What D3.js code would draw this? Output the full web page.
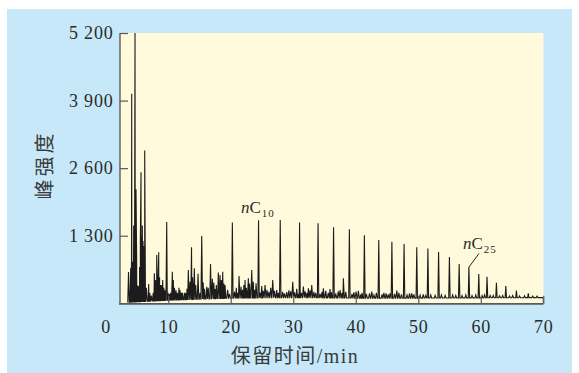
<!DOCTYPE html>
<html>
<head>
<meta charset="utf-8">
<script src="https://cdn.jsdelivr.net/npm/d3@7"></script>
<style>
  html, body { margin: 0; padding: 0; background: #fff; }
  svg { display: block; }
  text { fill: #2b2b2b; }
</style>
</head>
<body>
<div id="chart"></div>
<script>
// Chromatogram data: [retention time (min), peak height]
const alkanePeaks = [
  [20.26, 1552], [24.45, 1600], [27.92, 1604], [31.01, 1552], [33.97, 1541],
  [36.45, 1464], [38.98, 1425], [41.38, 1310], [43.68, 1219], [45.78, 1184],
  [47.73, 1142], [49.76, 1079], [51.54, 1052], [53.25, 988], [54.98, 892],
  [56.54, 757], [58.10, 705], [59.68, 564], [61.00, 512], [62.50, 397],
  [64.00, 333], [65.70, 243], [67.60, 193]
]

// Early eluting compounds (the crowded part on the left)
const earlyPeaks = [
  [3.65, 600], [4.00, 686], [4.16, 4030], [4.30, 800], [4.48, 1495], [4.69, 5200],
  [4.85, 2196], [4.95, 900], [5.12, 340], [5.28, 330], [5.42, 700], [5.54, 1220],
  [5.65, 2523], [5.80, 1300], [5.86, 1495], [5.97, 1200], [6.12, 1100], [6.24, 2940],
  [6.50, 300], [6.88, 372], [7.04, 200], [7.30, 150], [7.60, 200], [7.78, 578],
  [8.00, 450], [8.16, 930], [8.26, 487], [8.48, 982], [8.62, 500], [8.74, 352],
  [8.90, 350], [9.12, 449], [9.30, 300], [9.50, 250], [9.76, 1566], [9.97, 200],
  [10.20, 180], [10.40, 200], [10.66, 609], [10.82, 450], [11.00, 300], [11.25, 250],
  [11.46, 200], [11.73, 300], [11.90, 250], [12.10, 200], [12.30, 200], [12.64, 200],
  [12.85, 200], [13.00, 280], [13.22, 641], [13.49, 416], [13.73, 1080], [13.90, 500],
  [14.18, 674], [14.40, 350], [14.77, 570], [15.09, 200], [15.36, 1296], [15.60, 400],
  [15.80, 280], [16.16, 320], [16.40, 300], [16.77, 757], [17.06, 470], [17.30, 400],
  [17.49, 275], [17.70, 350], [18.02, 590], [18.29, 545], [18.50, 450], [18.72, 609],
  [18.90, 380], [19.09, 352]
]

// Small peaks riding on the baseline between the n-alkanes
const minorPeaks = [
  [19.5, 260], [19.8, 180], [20.6, 220], [20.9, 300], [21.1, 200], [21.33, 526],
  [21.65, 320], [21.9, 260], [22.1, 350], [22.29, 449], [22.5, 300], [22.82, 481],
  [23.0, 380], [23.36, 641], [23.62, 416], [23.8, 260], [24.05, 385], [24.7, 200],
  [24.96, 333], [25.2, 240], [25.49, 352], [25.8, 260], [26.1, 220], [26.4, 300],
  [26.72, 449], [27.0, 240], [27.36, 256], [27.6, 200], [28.3, 220], [28.6, 190],
  [28.96, 218], [29.3, 250], [29.6, 230], [29.92, 416], [30.2, 210], [30.56, 280],
  [30.8, 180], [31.3, 200], [31.62, 320], [31.9, 230], [32.2, 200], [32.42, 290],
  [32.7, 250], [32.96, 352], [33.3, 220], [33.6, 200], [34.3, 180], [34.6, 220],
  [34.82, 290], [35.2, 240], [35.6, 200], [35.89, 275], [36.1, 210], [36.8, 190],
  [37.2, 230], [37.49, 256], [37.8, 200], [38.02, 481], [38.4, 220], [39.4, 180],
  [39.7, 210], [40.05, 224], [40.42, 240], [40.8, 170], [41.0, 200], [41.7, 180],
  [42.2, 190], [42.56, 224], [42.9, 160], [43.3, 200], [44.2, 170], [44.5, 200],
  [44.85, 190], [45.2, 170], [45.5, 190], [46.2, 180], [46.56, 243], [46.9, 200],
  [47.3, 170], [48.2, 160], [48.6, 190], [48.96, 190], [49.3, 170], [50.3, 160],
  [50.8, 170], [51.2, 150], [52.0, 160], [52.7, 150], [53.7, 160], [54.3, 150],
  [55.5, 160], [56.0, 150], [57.0, 150], [57.6, 160], [58.6, 150], [59.2, 160],
  [60.2, 150], [60.6, 160], [61.5, 150], [62.0, 150], [63.0, 145], [63.5, 150],
  [64.6, 140], [65.1, 150], [66.2, 140], [67.0, 145], [68.3, 140], [69.0, 140]
]

// Baseline drift: [time, level]
const baselineLevels = [[3.5, 20], [10, 60], [20, 100], [30, 110], [40, 100], [50, 100], [60, 105], [70, 110]]

const xTicks = [0, 10, 20, 30, 40, 50, 60, 70]
const yTicks = [1300, 2600, 3900, 5200]
const peakLabels = [
  { text: 'C', sub: '10', t: 24.45 },
  { text: 'C', sub: '25', t: 58.10 }
]

const width = 579
const height = 373

const svg = d3.select('#chart')
  .append('svg')
  .attr('width', width)
  .attr('height', height)

// Panel background
svg.append('rect')
  .attr('x', 7).attr('y', 9)
  .attr('width', 565).attr('height', 364)
  .attr('fill', '#c6e8f8')

/**
 * Scales.
 */
const x = d3.scaleLinear().domain([0, 70]).range([105.7, 543.3])
const y = d3.scaleLinear().domain([0, 5200]).range([303.3, 33])
const plotLeft = 120
const plotRight = 543.5

svg.append('rect')
  .attr('x', plotLeft).attr('y', y(5200))
  .attr('width', plotRight - plotLeft).attr('height', y(0) - y(5200))
  .attr('fill', '#fffadb')

svg.append('defs').append('clipPath').attr('id', 'plot-clip')
  .append('rect')
  .attr('x', plotLeft).attr('y', y(5200) - 0.5)
  .attr('width', plotRight - plotLeft).attr('height', y(0) - y(5200) + 0.5)

// Baseline level as a function of time
const base = d3.scaleLinear()
  .domain(baselineLevels.map(d => d[0]))
  .range(baselineLevels.map(d => d[1]))
  .clamp(true)

// Each peak becomes a narrow spike on the baseline
const points = []
const addPeaks = (list, w) => list.forEach(([t, h]) => {
  points.push([t - w, base(t - w)], [t, h], [t + w, base(t + w)])
})
addPeaks(alkanePeaks, 0.11)
addPeaks(earlyPeaks, 0.12)
addPeaks(minorPeaks, 0.14)
points.sort((a, b) => a[0] - b[0])
points.unshift([3.5, base(3.5)])
points.push([70, base(70)], [70, 0])

const line = d3.line()
  .x(d => x(d[0]))
  .y(d => y(d[1]))

svg.append('path')
  .datum(points)
  .attr('clip-path', 'url(#plot-clip)')
  .attr('d', line)
  .attr('fill', 'none')
  .attr('stroke', '#1c1c1c')
  .attr('stroke-width', 1.1)
  .attr('stroke-linejoin', 'miter')

/**
 * Axes (ticks point inward).
 */
const axisColor = '#5a5a5a'
const yAxis = svg.append('g')
  .attr('transform', `translate(${plotLeft},0)`)
  .call(d3.axisRight(y).tickValues(yTicks).tickSize(8).tickFormat(''))
yAxis.select('.domain').remove()
yAxis.selectAll('line').attr('stroke', axisColor).attr('stroke-width', 1.2)

const xAxis = svg.append('g')
  .attr('transform', `translate(0,${y(0) + 0.5})`)
  .call(d3.axisTop(x).tickValues(xTicks.filter(d => x(d) > plotLeft)).tickSize(8).tickFormat(''))
xAxis.select('.domain').remove()
xAxis.selectAll('line').attr('stroke', axisColor).attr('stroke-width', 1.2)

svg.append('line')
  .attr('x1', plotLeft).attr('x2', plotLeft)
  .attr('y1', y(5200)).attr('y2', y(0) + 1.5)
  .attr('stroke', axisColor).attr('stroke-width', 1.4)
svg.append('line')
  .attr('x1', plotLeft - 0.7).attr('x2', plotRight)
  .attr('y1', y(0) + 0.6).attr('y2', y(0) + 0.6)
  .attr('stroke', axisColor).attr('stroke-width', 1.8)

// Tick labels
const fmt = d => d3.format(',')(d).replace(',', ' ')
svg.append('g').selectAll('text')
  .data(yTicks)
  .join('text')
  .attr('x', 113.5)
  .attr('y', d => y(d))
  .attr('dy', '0.34em')
  .attr('text-anchor', 'end')
  .attr('font-family', '"Liberation Serif", "Times New Roman", serif')
  .attr('font-size', 18)
  .attr('letter-spacing', 0.8)
  .text(fmt)

svg.append('g').selectAll('text')
  .data(xTicks)
  .join('text')
  .attr('x', d => x(d) + 0.5)
  .attr('y', 333)
  .attr('text-anchor', 'middle')
  .attr('font-family', '"Liberation Serif", "Times New Roman", serif')
  .attr('font-size', 18)
  .attr('letter-spacing', 0.8)
  .text(d => d)

// Axis titles
svg.append('text')
  .attr('transform', `translate(52,165) rotate(-90)`)
  .attr('text-anchor', 'middle')
  .attr('font-family', '"Noto Sans CJK SC", sans-serif')
  .attr('font-size', 20)
  .attr('letter-spacing', 3)
  .style('fill', '#3a3a3a')
  .text('峰强度')

const xTitle = svg.append('text')
  .attr('x', 295)
  .attr('y', 363)
  .attr('text-anchor', 'middle')
  .attr('font-size', 20)
  .attr('letter-spacing', 1.5)
  .style('fill', '#3a3a3a')
xTitle.append('tspan').attr('font-family', '"Noto Sans CJK SC", sans-serif').text('保留时间')
xTitle.append('tspan').attr('font-family', '"Liberation Serif", serif').text('/min')

/**
 * Peak labels.
 */
const labelPos = [
  { x: 241, y: 212.5 },
  { x: 463, y: 249 }
]
peakLabels.forEach((p, i) => {
  const t = svg.append('text')
    .attr('x', labelPos[i].x)
    .attr('y', labelPos[i].y)
    .attr('font-family', '"Liberation Serif", "Times New Roman", serif')
    .attr('font-size', 17)
  t.append('tspan').attr('font-style', 'italic').text('n')
  t.append('tspan').text(p.text)
  t.append('tspan').attr('font-size', 11).attr('dy', 4).attr('dx', 1).attr('letter-spacing', 0.8).text(p.sub)
})

// Leader line to nC25
const c25 = alkanePeaks.find(d => d[0] === 58.10)
svg.append('line')
  .attr('x1', 479).attr('y1', 253.5)
  .attr('x2', x(c25[0])).attr('y2', y(c25[1]) + 0.5)
  .attr('stroke', '#2b2b2b').attr('stroke-width', 1)
</script>
</body>
</html>
